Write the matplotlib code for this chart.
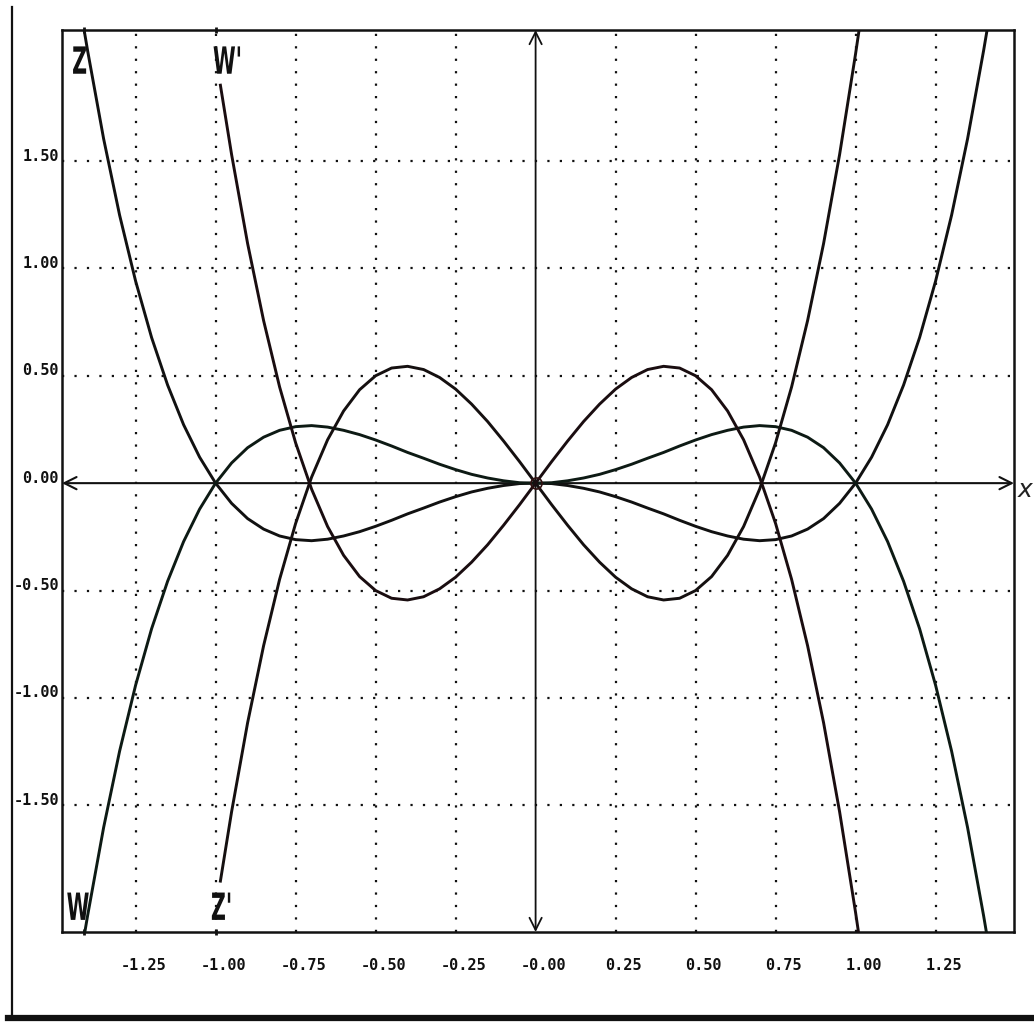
import numpy as np
import matplotlib
matplotlib.use("Agg")
import matplotlib.pyplot as plt
import matplotlib.transforms as mtransforms
from matplotlib.lines import Line2D
from matplotlib.textpath import TextPath
from matplotlib.patches import PathPatch
from matplotlib.font_manager import FontProperties

# curves
x_zw = [-1.41, -1.40, -1.35, -1.30, -1.25, -1.20, -1.15, -1.10, -1.05, -1.00,
        -0.95, -0.90, -0.85, -0.80, -0.75, -0.70, -0.65, -0.60, -0.55, -0.50,
        -0.45, -0.40, -0.35, -0.30, -0.25, -0.20, -0.15, -0.10, -0.05, 0.00,
        0.05, 0.10, 0.15, 0.20, 0.25, 0.30, 0.35, 0.40, 0.45, 0.50,
        0.55, 0.60, 0.65, 0.70, 0.75, 0.80, 0.85, 0.90, 0.95, 1.00,
        1.05, 1.10, 1.15, 1.20, 1.25, 1.30, 1.35, 1.40, 1.41]
z_vals = [2.102, 2.014, 1.604, 1.248, 0.941, 0.678, 0.457, 0.272, 0.121, 0.000,
          -0.094, -0.165, -0.214, -0.246, -0.263, -0.268, -0.261, -0.246, -0.226, -0.201,
          -0.173, -0.143, -0.116, -0.088, -0.063, -0.041, -0.024, -0.011, -0.002, 0.000,
          -0.002, -0.011, -0.024, -0.041, -0.063, -0.088, -0.116, -0.143, -0.173, -0.201,
          -0.226, -0.246, -0.261, -0.268, -0.263, -0.246, -0.214, -0.165, -0.094, 0.000,
          0.121, 0.272, 0.457, 0.678, 0.941, 1.248, 1.604, 2.014, 2.102]
w_vals = [-2.102, -2.014, -1.604, -1.248, -0.941, -0.678, -0.457, -0.272, -0.121, 0.000,
          0.094, 0.165, 0.214, 0.246, 0.263, 0.268, 0.261, 0.246, 0.226, 0.201,
          0.173, 0.143, 0.116, 0.088, 0.063, 0.041, 0.024, 0.011, 0.002, 0.000,
          0.002, 0.011, 0.024, 0.041, 0.063, 0.088, 0.116, 0.143, 0.173, 0.201,
          0.226, 0.246, 0.261, 0.268, 0.263, 0.246, 0.214, 0.165, 0.094, 0.000,
          -0.121, -0.272, -0.457, -0.678, -0.941, -1.248, -1.604, -2.014, -2.102]

x_d = [-0.985, -0.95, -0.90, -0.85, -0.80, -0.75, -0.70, -0.65, -0.60, -0.55,
       -0.50, -0.45, -0.40, -0.35, -0.30, -0.25, -0.20, -0.15, -0.10, -0.05,
       0.00, 0.05, 0.10, 0.15, 0.20, 0.25, 0.30, 0.35, 0.40, 0.45,
       0.50, 0.55, 0.60, 0.65, 0.70, 0.75, 0.80, 0.85, 0.90, 0.95, 1.00, 1.01]
zp_vals = [-1.853, -1.530, -1.116, -0.757, -0.448, -0.188, 0.028, 0.202, 0.336, 0.435,
           0.500, 0.536, 0.544, 0.529, 0.492, 0.438, 0.368, 0.287, 0.196, 0.100,
           0.000, -0.100, -0.196, -0.287, -0.368, -0.438, -0.492, -0.529, -0.544, -0.536,
           -0.500, -0.435, -0.336, -0.202, -0.028, 0.188, 0.448, 0.757, 1.116, 1.530, 2.000, 2.101]
wp_vals = [1.853, 1.530, 1.116, 0.757, 0.448, 0.188, -0.028, -0.202, -0.336, -0.435,
           -0.500, -0.536, -0.544, -0.529, -0.492, -0.438, -0.368, -0.287, -0.196, -0.100,
           0.000, 0.100, 0.196, 0.287, 0.368, 0.438, 0.492, 0.529, 0.544, 0.536,
           0.500, 0.435, 0.336, 0.202, 0.028, -0.188, -0.448, -0.757, -1.116, -1.530, -2.000, -2.101]

xgrid = [-1.25, -1.00, -0.75, -0.50, -0.25, 0.25, 0.50, 0.75, 1.00, 1.25]
xlabels = ["-1.25", "-1.00", "-0.75", "-0.50", "-0.25", "-0.00",
           "0.25", "0.50", "0.75", "1.00", "1.25"]
xlabel_pos = [-1.25, -1.00, -0.75, -0.50, -0.25, 0.00, 0.25, 0.50, 0.75, 1.00, 1.25]
ygrid = [-1.5, -1.0, -0.5, 0.5, 1.0, 1.5]
ylabel_pos = [1.5, 1.0, 0.5, 0.0, -0.5, -1.0, -1.5]
ylabels = ["1.50", "1.00", "0.50", "0.00", "-0.50", "-1.00", "-1.50"]

curve_names = ["Z", "W'", "W", "Z'"]
name_pos = [(-1.425, 1.97), (-0.965, 1.97), (-1.43, -1.97), (-0.983, -1.97)]

DPI = 100
fig = plt.figure(figsize=(10.34, 10.24), dpi=DPI)
fig.patch.set_facecolor("white")
ax = fig.add_axes([62/1034, 92/1024, 952/1034, 902/1024])
ax.set_xlim(-1.48, 1.495)
ax.set_ylim(-2.09, 2.11)

for s in ax.spines.values():
    s.set_linewidth(1.8)
    s.set_color("#111111")

# dotted grid
for gx in xgrid:
    ax.axvline(gx, color="#111111", lw=1.6, linestyle=(0, (1, 4.6)), zorder=1)
for gy in ygrid:
    ax.axhline(gy, color="#111111", lw=1.6, linestyle=(0, (1, 4.6)), zorder=1)

# axes with arrows
x0, x1 = ax.get_xlim()
y0, y1 = ax.get_ylim()
ax.annotate("", xy=(x1, 0), xytext=(x0, 0),
            arrowprops=dict(arrowstyle="<->", lw=1.5, color="#111111",
                            mutation_scale=22, shrinkA=0, shrinkB=0))
ax.annotate("", xy=(0, y1), xytext=(0, y0),
            arrowprops=dict(arrowstyle="<->", lw=1.3, color="#111111",
                            mutation_scale=22, shrinkA=0, shrinkB=0))

# curves
ax.plot(x_zw, z_vals, color="#111111", lw=2.1, zorder=3, solid_joinstyle="round")
ax.plot(x_zw, w_vals, color="#0d1a14", lw=2.1, zorder=3, solid_joinstyle="round")
ax.plot(x_d, zp_vals, color="#151010", lw=2.1, zorder=3, solid_joinstyle="round")
ax.plot(x_d, wp_vals, color="#1a0d10", lw=2.1, zorder=3, solid_joinstyle="round")
ax.plot([0], [0], "o", mfc="none", mec="#301010", ms=8, mew=1.2, zorder=4)

# small tick marks at curve ends
ax.set_xticks([-1.41, -1.00])
ax.set_xticklabels(["", ""])
ax.set_yticks([])
ax.tick_params(axis="x", direction="inout", length=5, width=2, top=True,
               color="#111111")

tick_font = dict(family="DejaVu Sans Mono", weight="bold", fontsize=11, color="#111111")
xt = mtransforms.offset_copy(ax.get_xaxis_transform(), fig=fig, x=8, y=0, units="dots")
for xp, lab in zip(xlabel_pos, xlabels):
    ax.text(xp, -0.0366, lab, transform=xt, ha="center", va="center", **tick_font)
yt = mtransforms.offset_copy(ax.get_yaxis_transform(), fig=fig, x=-3, y=5, units="dots")
for yp, lab in zip(ylabel_pos, ylabels):
    ax.text(0, yp, lab, transform=yt, ha="right", va="center", clip_on=False, **tick_font)

# tall narrow curve names
fp = FontProperties(family="DejaVu Sans", weight="bold")
k = DPI / 72.0
for name, (px, py) in zip(curve_names, name_pos):
    tp = TextPath((0, 0), name, size=27, prop=fp)
    ext = tp.get_extents()
    cx = (ext.x0 + ext.x1) / 2
    cy = (ext.y0 + ext.y1) / 2
    tr = (mtransforms.Affine2D().translate(-cx, -cy).scale(0.55 * k, k)
          + mtransforms.ScaledTranslation(px, py, ax.transData))
    ax.add_patch(PathPatch(tp, transform=tr, color="#111111", lw=0, zorder=5))

fig.text(1017/1034, (1024-490)/1024, "$x$", fontsize=18, ha="left",
         va="center", color="#222222")

# scanned page border
fig.add_artist(Line2D([12/1034, 12/1034], [6/1024, 1017/1024], lw=1.6,
                      color="#111111", transform=fig.transFigure))
fig.add_artist(Line2D([8/1034, 1.0], [6/1024, 6/1024], lw=4.5,
                      color="#111111", transform=fig.transFigure))

fig.savefig("out.png", dpi=DPI, facecolor="white")
